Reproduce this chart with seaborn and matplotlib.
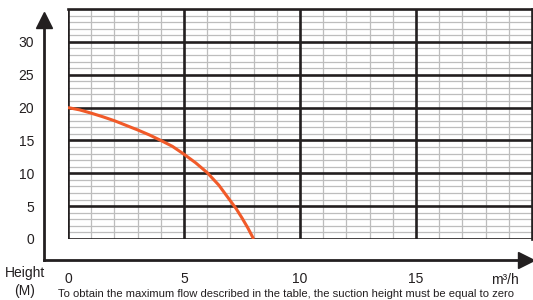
import numpy as np
import pandas as pd
import matplotlib
matplotlib.use("Agg")
import matplotlib.pyplot as plt
from matplotlib.ticker import MultipleLocator
import seaborn as sns

# pump curve
flow = [0, 0.5, 1, 1.5, 2, 2.5, 3, 3.5, 4, 4.5, 5, 5.5, 6, 6.5, 7, 7.25, 7.5, 7.75, 8]
height = [20, 19.65, 19.15, 18.6, 18.0, 17.3, 16.6, 15.85, 15.0, 14.1, 12.9, 11.6,
          10.1, 8.2, 5.8, 4.6, 3.2, 1.7, 0]
x_ticks = [0, 5, 10, 15]
y_ticks = [0, 5, 10, 15, 20, 25, 30]

df = pd.DataFrame({"flow": flow, "height": height})

sns.set_style("white")
plt.rcParams["font.family"] = ["Liberation Sans", "DejaVu Sans"]

dark = "#231f20"
fig = plt.figure(figsize=(5.33, 3.0), dpi=100)
ax = fig.add_axes([68 / 533, 61 / 300, 464 / 533, 230 / 300])

# grid: thin grey every unit, thick dark every 5
ax.set_xlim(0, 20)
ax.set_ylim(0, 35)
ax.xaxis.set_minor_locator(MultipleLocator(1))
ax.yaxis.set_minor_locator(MultipleLocator(1))
ax.set_xticks(x_ticks)
ax.set_yticks(y_ticks)
ax.grid(which="minor", color="#bdbdbd", lw=0.9)
ax.set_axisbelow(True)
for v in x_ticks:
    ax.axvline(v, color=dark, lw=1.9, zorder=1)
for v in y_ticks:
    ax.axhline(v, color=dark, lw=1.9, zorder=1)

sns.lineplot(data=df, x="flow", y="height", ax=ax, color="#f15a29", lw=2.2,
             zorder=5, solid_joinstyle="round", solid_capstyle="butt")
ax.set_xlabel("")
ax.set_ylabel("")

# axes with arrows, moved out from the grid
for s in ["top", "right"]:
    ax.spines[s].set_color(dark)
    ax.spines[s].set_linewidth(1.9)
ax.spines["left"].set_position(("outward", 17.3))
ax.spines["bottom"].set_position(("outward", 15.1))
for s in ["left", "bottom"]:
    ax.spines[s].set_color(dark)
    ax.spines[s].set_linewidth(2.0)
ax.spines["left"].set_bounds(-3.2, 33.0)
ax.spines["bottom"].set_bounds(-1.05, 19.6)
ax.plot([-1.03], [33.4], marker="^", ms=11, color=dark, clip_on=False)
ax.plot([19.72], [-3.18], marker=">", ms=11, color=dark, clip_on=False)

ax.tick_params(which="major", direction="inout", color=dark, width=1.9,
               labelsize=10, labelcolor=dark)
ax.tick_params(axis="y", which="major", length=11.5, pad=1.5)
ax.tick_params(axis="x", which="major", length=10, pad=4)
ax.tick_params(which="minor", length=0)

fig.text(25 / 533, 1 - 273 / 300, "Height", ha="center", va="center", fontsize=10, color=dark)
fig.text(25 / 533, 1 - 291 / 300, "(M)", ha="center", va="center", fontsize=10, color=dark)
fig.text(505 / 533, 1 - 280 / 300, "m³/h", ha="center", va="center", fontsize=10, color=dark)
fig.text(286 / 533, 1 - 294 / 300,
         "To obtain the maximum flow described in the table, the suction height must be equal to zero",
         ha="center", va="center", fontsize=8.1, color=dark)

fig.savefig("out.png", dpi=100)
